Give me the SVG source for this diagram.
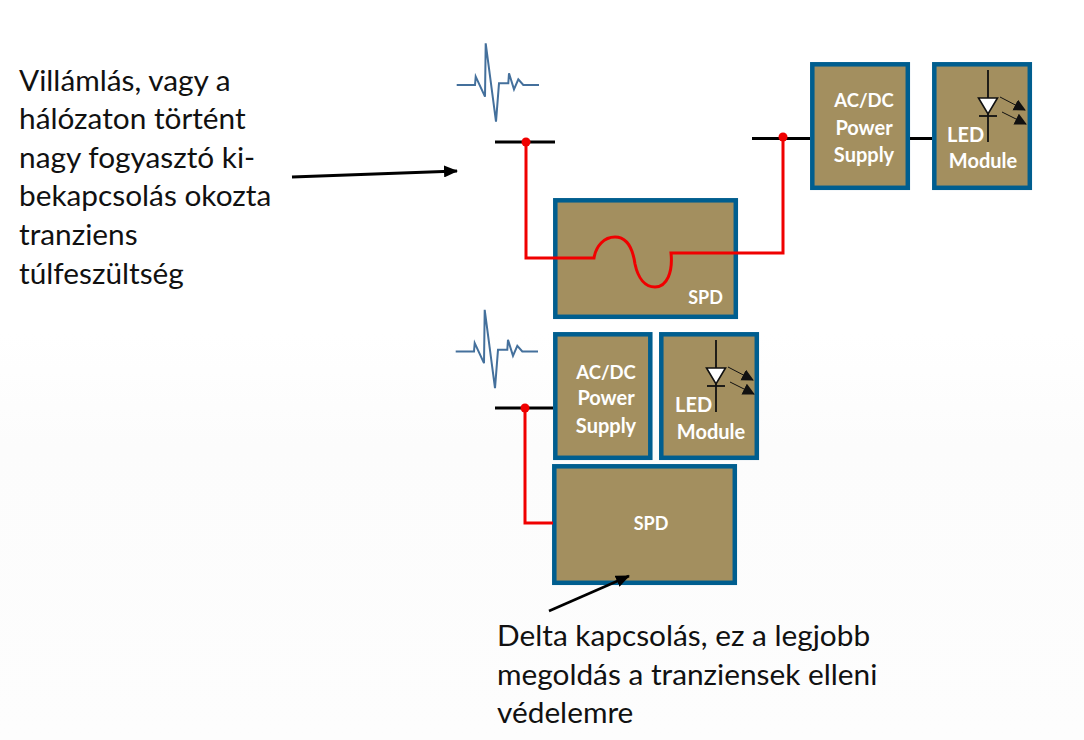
<svg xmlns="http://www.w3.org/2000/svg" width="1084" height="740" viewBox="0 0 1084 740">
<defs>
<linearGradient id="bg" x1="0" y1="0" x2="0" y2="1"><stop offset="0" stop-color="#ffffff"/><stop offset="0.45" stop-color="#ffffff"/><stop offset="0.6" stop-color="#fcfcfc"/><stop offset="1" stop-color="#fdfdfd"/></linearGradient>
<marker id="ah" markerUnits="userSpaceOnUse" markerWidth="14" markerHeight="12" refX="13" refY="6" orient="auto"><path d="M0 0L14 6L0 12Z" fill="#000"/></marker>
<marker id="lh" markerUnits="userSpaceOnUse" markerWidth="13" markerHeight="13" refX="11" refY="6" orient="auto"><path d="M0 0L12 6L0 12Z" fill="#111"/></marker>
<polyline id="wave" points="456.7,85 475,85 475.7,76.7 485,96.7 485.7,43.3 496,121.7 499,83.3 508.3,83.3 509,73.3 514,89.3 518.3,79.3 523.3,85 539,85"/>
<g id="led">
<path d="M0 0V72" class="blk2"/><path d="M-9 46H9" class="blk2"/>
<path d="M-9.500 28H9.500L0 44Z" fill="#fff" stroke="#111" stroke-width="1.6"/>
<path d="M12 27L37 40" class="thin" marker-end="url(#lh)"/><path d="M14 42L38 54" class="thin" marker-end="url(#lh)"/>
</g>
</defs>
<style>
.box{fill:#a38f5f;stroke:#005e8f;stroke-width:4.5}
.lbl{font-family:"Lato","Liberation Sans",sans-serif;font-weight:700;font-size:20px;fill:#fff;text-anchor:middle}
.ac{font-size:18.500px}
.txt{font-family:"Lato","Liberation Sans",sans-serif;font-size:29.800px;fill:#111}
.blk{fill:none;stroke:#000;stroke-width:2.800}
.blk2{fill:none;stroke:#111;stroke-width:1.800}
.thin{fill:none;stroke:#111;stroke-width:1}
.red{fill:none;stroke:#f00000;stroke-width:3}
.wv{fill:none;stroke:#44709c;stroke-width:2}
</style>
<rect width="1084" height="740" fill="url(#bg)"/>
<g id="surge-top"><use href="#wave" class="wv"/></g>
<g id="surge-bottom"><use href="#wave" class="wv" transform="translate(-1 266.5)"/></g>
<g id="spd-top"><rect class="box" x="555.3" y="200.3" width="180.5" height="116.5"/><text class="lbl" x="705.500" y="304" style="font-size:18px">SPD</text></g>
<g id="psu-top"><rect class="box" x="812.3" y="64.3" width="95.5" height="123.5"/><text class="lbl ac" x="864" y="107">AC/DC</text><text class="lbl" x="864" y="135">Power</text><text class="lbl" x="864" y="162">Supply</text></g>
<g id="led-top"><rect class="box" x="934.3" y="64.3" width="95.5" height="123.5"/><use href="#led" x="988" y="70"/><text class="lbl" x="947" y="142" style="text-anchor:start">LED</text><text class="lbl" x="983" y="168">Module</text></g>
<g id="psu-bottom"><rect class="box" x="555.3" y="334.3" width="95" height="123.5"/><text class="lbl ac" x="606" y="379">AC/DC</text><text class="lbl" x="606" y="405">Power</text><text class="lbl" x="606" y="433">Supply</text></g>
<g id="led-bottom"><rect class="box" x="661.3" y="334.3" width="95.5" height="123.5"/><use href="#led" x="716" y="340"/><text class="lbl" x="675" y="412" style="text-anchor:start">LED</text><text class="lbl" x="711" y="439">Module</text></g>
<g id="spd-bottom"><rect class="box" x="554.3" y="466.3" width="180.5" height="116.5"/><text class="lbl" x="651" y="530" style="font-size:18px">SPD</text></g>
<g id="connectors">
<path class="blk" d="M495 142H555M752 138.500H810M910 138.500H932M495 408H553"/>
<path class="red" d="M526 142V258H594C596 246 604 237 615 237C628 237 633 250 635 264C638 278 645 287 655 287C667 287 673 272 671 253H783V137"/>
<path class="red" d="M525 408V523H553"/>
<circle cx="526" cy="142" r="4.500" fill="#f00000"/><circle cx="783" cy="137" r="4.500" fill="#f00000"/><circle cx="525" cy="408" r="4.500" fill="#f00000"/>
<path d="M292 177L457 171" fill="none" stroke="#000" stroke-width="3" marker-end="url(#ah)"/>
<path d="M549 611L629 576" fill="none" stroke="#000" stroke-width="2.600" marker-end="url(#ah)"/>
</g>
<g id="notes">
<text class="txt" x="19" y="91">Villámlás, vagy a</text>
<text class="txt" x="19" y="129">hálózaton történt</text>
<text class="txt" x="19" y="168">nagy fogyasztó ki-</text>
<text class="txt" x="19" y="206">bekapcsolás okozta</text>
<text class="txt" x="19" y="245">tranziens</text>
<text class="txt" x="19" y="284">túlfeszültség</text>
<text class="txt" x="497" y="646">Delta kapcsolás, ez a legjobb</text>
<text class="txt" x="497" y="685">megoldás a tranziensek elleni</text>
<text class="txt" x="497" y="723">védelemre</text>
</g>
</svg>
